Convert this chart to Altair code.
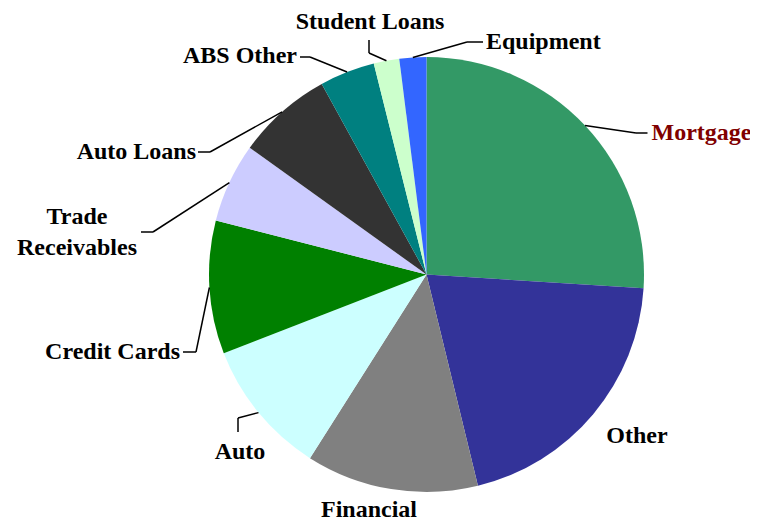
import altair as alt
import pandas as pd

# ---- data -------------------------------------------------------------
labels = ["Mortgage", "Other", "Financial", "Auto", "Credit Cards",
          "Trade\nReceivables", "Auto Loans", "ABS Other", "Student Loans", "Equipment"]
values = [26.0, 20.2, 12.8, 10.1, 9.9, 5.9, 7.1, 4.1, 1.9, 2.0]

# ---- style ------------------------------------------------------------
colors = ["#339966", "#333399", "#808080", "#CCFFFF", "#008000",
          "#CCCCFF", "#333333", "#008080", "#CCFFCC", "#3366FF"]
text_colors = ["#800000"] + ["#000000"] * 9
FONT = "Liberation Serif, Times New Roman, DejaVu Serif, serif"

# ---- annotation layout (offsets from pie centre, px) -------------------
label_align = ["left", "center", "center", "center", "right",
               "center", "right", "right", "center", "left"]
label_dx = [225.0, 210.5, -57.5, -186.5, -246.5, -349.5, -230.5, -129.5, -56.5, 59.5]
label_dy = [-141.5, 161.5, 235.5, 177.5, 77.5, -57.5, -122.5, -218.5, -253.0, -232.5]
knee_dx = [209.5, None, None, -188.5, -230.5, -273.5, -216.5, -116.5, -57.5, 40.5]
knee_dy = [-141.5, None, None, 143.5, 77.5, -42.5, -122.5, -217.5, -221.5, -232.5]
end_dx = [221.0, None, None, -188.5, -243.5, -285.5, -228.5, -126.5, -57.5, 56.5]
end_dy = [-141.5, None, None, 157.5, 77.5, -42.5, -122.5, -217.5, -234.5, -232.5]

CX, CY, R = 418.5, 266.5, 217.5
W, H = 742, 514

df = pd.DataFrame({
    "idx": list(range(len(labels))),
    "label": labels,
    "value": values,
    "tcolor": text_colors,
    "align": label_align,
    "ldx": label_dx, "ldy": label_dy,
    "kdx": knee_dx, "kdy": knee_dy,
    "edx": end_dx, "edy": end_dy,
})

base = alt.Chart(df).transform_window(
    cum="sum(value)", sort=[alt.SortField("idx", order="ascending")]
).transform_joinaggregate(
    total="sum(value)"
).transform_calculate(
    mid="2*PI*(datum.cum - datum.value/2)/datum.total",
).transform_calculate(
    ex=f"{CX} + {R}*sin(datum.mid)",
    ey=f"{CY} - {R}*cos(datum.mid)",
    lx=f"{CX} + datum.ldx",
    ly=f"{CY} + datum.ldy",
    kx=f"{CX} + datum.kdx",
    ky=f"{CY} + datum.kdy",
    nx=f"{CX} + datum.edx",
    ny=f"{CY} + datum.edy",
)

pie = alt.Chart(df).mark_arc(radius=R, stroke=None).encode(
    theta=alt.Theta("value:Q", stack=True),
    color=alt.Color("label:N", scale=alt.Scale(domain=labels, range=colors), legend=None),
    order=alt.Order("idx:Q", sort="ascending"),
    x=alt.value(CX),
    y=alt.value(CY),
)

lines = base.transform_filter("isValid(datum.kdx)")
rule1 = lines.mark_rule(color="black", strokeWidth=1.5).encode(
    x=alt.X("ex:Q", scale=None, axis=None),
    y=alt.Y("ey:Q", scale=None, axis=None),
    x2="kx:Q", y2="ky:Q",
)
rule2 = lines.mark_rule(color="black", strokeWidth=1.5).encode(
    x=alt.X("kx:Q", scale=None, axis=None),
    y=alt.Y("ky:Q", scale=None, axis=None),
    x2="nx:Q", y2="ny:Q",
)

texts = []
for a in ["left", "center", "right"]:
    texts.append(
        base.transform_filter(f"datum.align == '{a}'").mark_text(
            align=a, baseline="middle", font=FONT, fontWeight="bold",
            fontSize=24, lineBreak="\n", lineHeight=31,
        ).encode(
            x=alt.X("lx:Q", scale=None, axis=None),
            y=alt.Y("ly:Q", scale=None, axis=None),
            text="label:N",
            color=alt.Color("tcolor:N", scale=None),
        )
    )

chart = alt.layer(pie, rule1, rule2, *texts).properties(
    width=W, height=H, autosize="none", padding=0,
).configure_view(stroke=None)

chart.save("out.html", embed_options={"renderer": "svg", "actions": False})
